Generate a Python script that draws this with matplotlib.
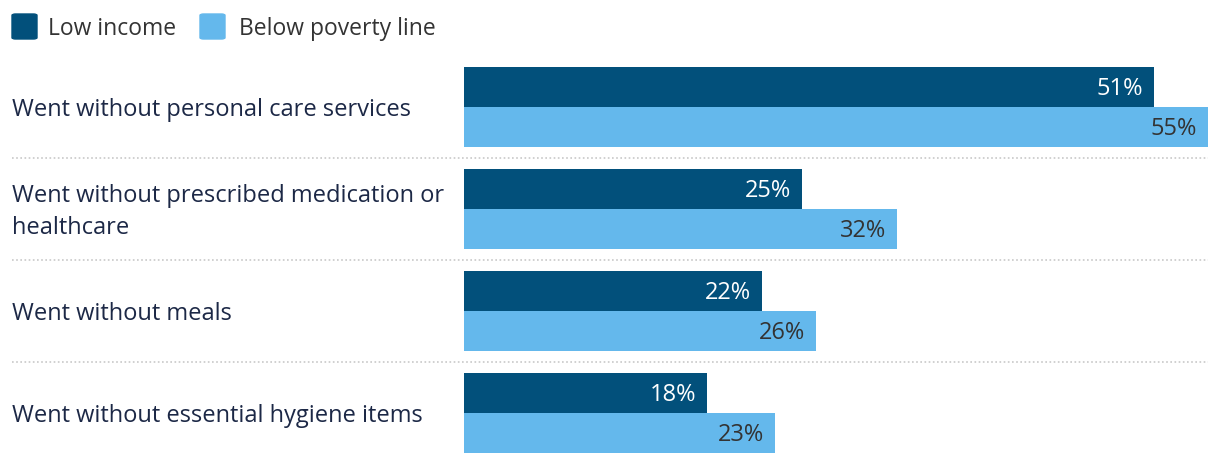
import matplotlib.pyplot as plt
import matplotlib.transforms as mtransforms
from matplotlib.patches import FancyBboxPatch

# Dáta
kategorie = [
    "Went without personal care services",
    "Went without prescribed medication or\nhealthcare",
    "Went without meals",
    "Went without essential hygiene items",
]
low_income = [51, 25, 22, 18]
below_poverty = [55, 32, 26, 23]
serie = ["Low income", "Below poverty line"]

farba_tmava = "#02507b"
farba_svetla = "#64b8ec"
farba_textu = "#1c2846"

plt.rcParams['font.family'] = ['Open Sans', 'DejaVu Sans']

W, H = 1220, 464
fig = plt.figure(figsize=(W / 100, H / 100), dpi=100)

# Osi pre stĺpce: x od 464 px po 1208 px, y od 68 px po 454 px
ax = fig.add_axes([464 / W, (H - 454) / H, (1208 - 464) / W, (454 - 68) / H])
vyska = 40 / 102
n = len(kategorie)
y = list(range(n))

ax.barh([i - vyska / 2 for i in y], low_income, height=vyska, color=farba_tmava)
ax.barh([i + vyska / 2 for i in y], below_poverty, height=vyska, color=farba_svetla)

ax.set_xlim(0, max(below_poverty))
ax.set_ylim(n - 1 + vyska, -vyska)
ax.axis('off')

# Hodnoty v stĺpcoch
pad = mtransforms.offset_copy(ax.transData, fig=fig, x=-11 / 100 * 72, y=-1 / 100 * 72, units='points')
for i in y:
    ax.text(low_income[i], i - vyska / 2, f"{low_income[i]}%", transform=pad,
            ha='right', va='center', color='white', fontsize=17)
    ax.text(below_poverty[i], i + vyska / 2, f"{below_poverty[i]}%", transform=pad,
            ha='right', va='center', color='#333333', fontsize=17)

# Názvy kategórií a oddeľovacie čiary
zmies = mtransforms.blended_transform_factory(fig.transFigure, ax.transData)
posun = mtransforms.offset_copy(zmies, fig=fig, x=0, y=-2 / 100 * 72, units='points')
for i in y:
    fig.text(12 / W, i, kategorie[i], transform=posun, ha='left', va='center',
             color=farba_textu, fontsize=17, linespacing=1.4)
for i in range(n - 1):
    ax.plot([12 / W, 1208 / W], [i + 0.5, i + 0.5], transform=zmies, clip_on=False,
            color='#c8c8c8', linestyle=(0, (1, 1.5)), linewidth=1.2)

# Legenda
legenda_x = [12, 200]
text_x = [48, 239]
for k, nazov in enumerate(serie):
    farba = farba_tmava if k == 0 else farba_svetla
    fig.patches.append(FancyBboxPatch((legenda_x[k] / W, (H - 40) / H), 25 / W, 25 / H,
                                      boxstyle="round,pad=0,rounding_size=0.003",
                                      transform=fig.transFigure, color=farba))
    fig.text(text_x[k] / W, (H - 29) / H, nazov, ha='left', va='center',
             color='#333333', fontsize=16.5)

fig.savefig("out.png", dpi=100)
